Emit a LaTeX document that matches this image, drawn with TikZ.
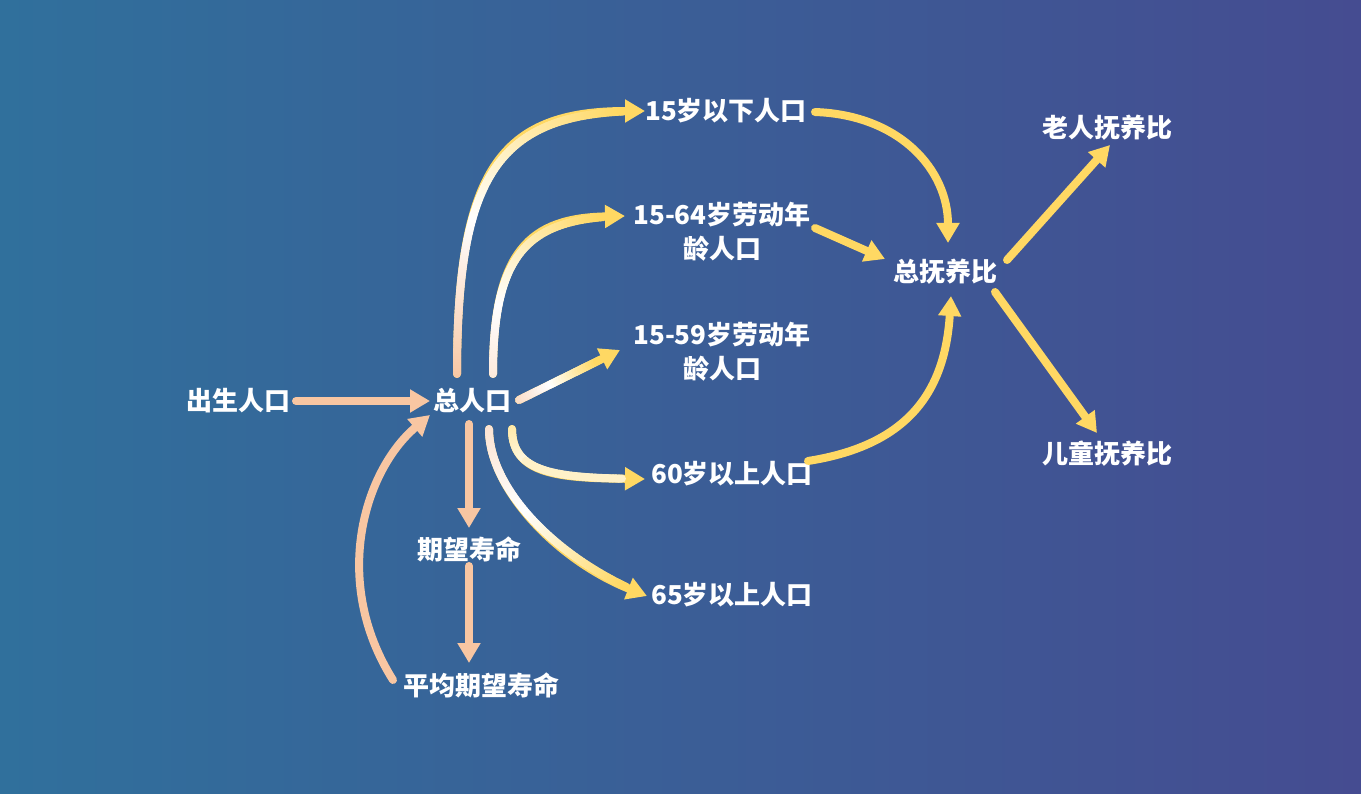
\documentclass[tikz,border=0pt]{standalone}
\usepackage{fontspec}
\setmainfont{Noto Sans CJK SC}
\usetikzlibrary{arrows.meta,decorations.markings,calc}
\definecolor{bgL}{HTML}{30709C}
\definecolor{bgR}{HTML}{454C91}
\definecolor{peach}{HTML}{F8C6A2}
\definecolor{gold}{HTML}{FFD863}
\definecolor{cream}{HTML}{FFF8F0}
\newcount\gmc
% #1 path, #2 start colour, #3 middle colour, #4 end colour, #5 middle position
\newcommand\gradarrow[5]{%
  \draw[conn,draw=#4] #1;
  \global\gmc=0
  \path[decorate,decoration={markings,mark=between positions 0 and -22pt step 3pt with {\global\advance\gmc by 1 \coordinate (gm\the\gmc);}}] #1;
  \pgfmathtruncatemacro\gmn{\gmc}%
  \foreach \gi in {2,...,\gmn}{%
    \pgfmathtruncatemacro\gj{\gi-1}%
    \pgfmathsetmacro\gt{\gi/\gmn}%
    \ifdim\gt pt<#5pt
      \pgfmathsetmacro\gp{min(100,max(0,100*\gt/#5))}%
      \colorlet{segc}{#3!\gp!#2}%
    \else
      \pgfmathsetmacro\gp{min(100,max(0,100*(\gt-#5)/(1-#5)))}%
      \colorlet{segc}{#4!\gp!#3}%
    \fi
    \draw[line width=8pt,line cap=round,draw=segc] (gm\gj) -- (gm\gi);
  }%
}
\begin{document}
\begin{tikzpicture}[x=1pt,y=-1pt,
  lbl/.style={text=white,font=\fontsize{26}{34}\selectfont\bfseries,inner sep=0pt,align=center},
  conn/.style={line width=8pt,line cap=round,-{Triangle[length=20pt,width=22pt]}}]
\shade[left color=bgL,right color=bgR] (0,0) rectangle (1361,794);
\useasboundingbox (0,0) rectangle (1361,794);
\node[lbl] (birth) at (238,401) {出生人口};
\node[lbl] (total) at (472,401) {总人口};
\node[lbl] (u15) at (726,111) {15岁以下人口};
\node[lbl] (w64) at (722,232) {15-64岁劳动年\\龄人口};
\node[lbl] (w59) at (722,352) {15-59岁劳动年\\龄人口};
\node[lbl] (o60) at (732,474) {60岁以上人口};
\node[lbl] (o65) at (732,595) {65岁以上人口};
\node[lbl] (life) at (469,549) {期望寿命};
\node[lbl] (avg) at (481,685) {平均期望寿命};
\node[lbl] (tdr) at (945,272) {总抚养比};
\node[lbl] (odr) at (1107,128) {老人抚养比};
\node[lbl] (cdr) at (1107,454) {儿童抚养比};
% peach connectors
\draw[conn,draw=peach] ([shift={(58,0)}]birth.center) -- ([shift={(-42,0)}]total.center);
\draw[conn,draw=peach] ([shift={(-88,-5)}]avg.center) .. controls +(-63,-100) and +(-65,55) .. ([shift={(-42,14)}]total.center);
\draw[conn,draw=peach] ([shift={(-3,23)}]total.center) -- ([shift={(0,-21)}]life.center);
\draw[conn,draw=peach] ([shift={(0,17)}]life.center) -- ([shift={(-12,-22)}]avg.center);
% gradient connectors
\gradarrow{([shift={(-15,-27)}]total.center) .. controls +(0,-204) and +(-145,0) .. ([shift={(-81,0)}]u15.center)}{peach}{white}{gold}{0.45}
\gradarrow{([shift={(21,-27)}]total.center) .. controls +(0,-124) and +(-95,2) .. ([shift={(-97,-16)}]w64.center)}{peach!40!white}{white}{gold}{0.35}
\gradarrow{([shift={(47,-1)}]total.center) -- ([shift={(-102,-2)}]w59.center)}{peach!70!white}{white}{gold}{0.45}
\gradarrow{([shift={(40,28)}]total.center) .. controls +(0,46) and +(-85,-1) .. ([shift={(-87,5)}]o60.center)}{gold!60!white}{gold!35!white}{gold}{0.3}
\gradarrow{([shift={(17,28)}]total.center) .. controls +(0,60) and +(-90,-36) .. ([shift={(-85,1)}]o65.center)}{peach!50!white}{white}{gold}{0.45}
% gold connectors
\draw[conn,draw=gold] ([shift={(89,1)}]u15.center) .. controls +(85,3) and +(0,-73) .. ([shift={(3,-29)}]tdr.center);
\draw[conn,draw=gold] ([shift={(93,-4)}]w64.center) -- ([shift={(-60,-13)}]tdr.center);
\draw[conn,draw=gold] ([shift={(76,-13)}]o60.center) .. controls +(102,-16) and +(-6,94) .. ([shift={(6,24)}]tdr.center);
\draw[conn,draw=gold] ([shift={(62,-12)}]tdr.center) -- ([shift={(3,17)}]odr.center);
\draw[conn,draw=gold] ([shift={(50,20)}]tdr.center) -- ([shift={(-10,-21)}]cdr.center);
\end{tikzpicture}
\end{document}
